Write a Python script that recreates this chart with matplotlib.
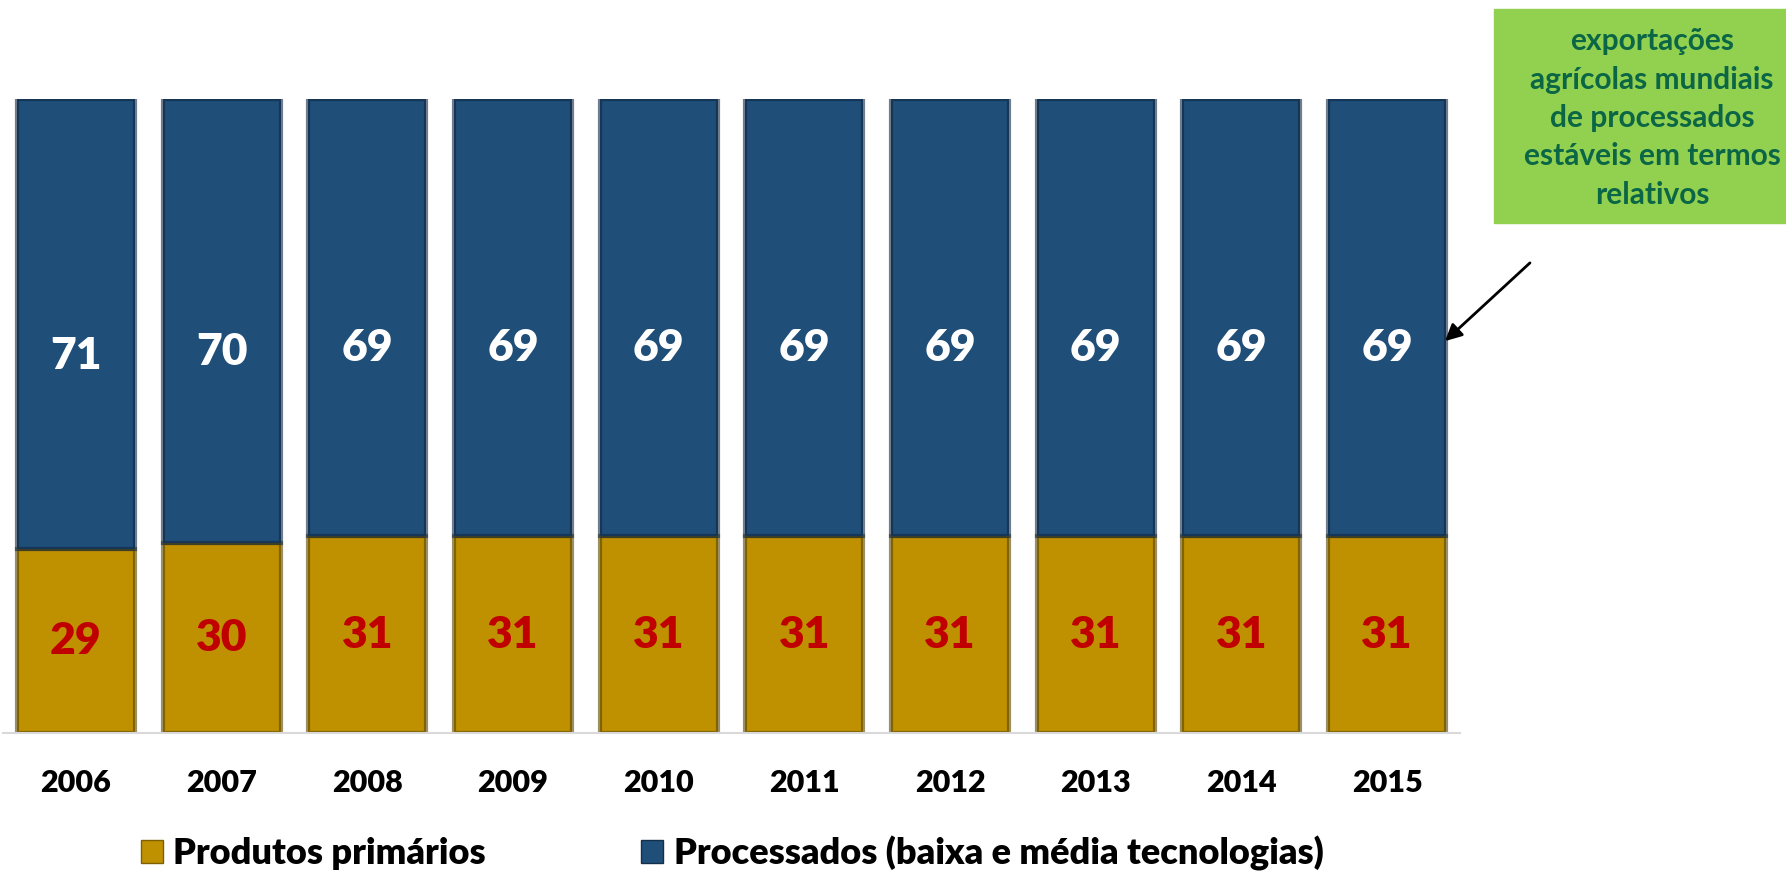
import matplotlib.pyplot as plt
from matplotlib.patches import Rectangle, Patch

plt.rcParams['font.family'] = ['Lato', 'DejaVu Sans']

anos = ['2006', '2007', '2008', '2009', '2010', '2011', '2012', '2013', '2014', '2015']
primarios = [29, 30, 31, 31, 31, 31, 31, 31, 31, 31]
processados = [71, 70, 69, 69, 69, 69, 69, 69, 69, 69]

cor_prim = '#BF9000'
cor_proc = '#1F4E78'

fig = plt.figure(figsize=(17.86, 8.74), dpi=100)
ax = fig.add_axes([3 / 1786, 141 / 874, 1457 / 1786, 634 / 874])

x = list(range(len(anos)))
ax.bar(x, primarios, width=0.81, color=cor_prim, edgecolor=(0.35, 0.27, 0.0, 0.6),
       linewidth=3)
ax.bar(x, processados, width=0.81, bottom=primarios, color=cor_proc,
       edgecolor=(0.06, 0.15, 0.25, 0.6), linewidth=3)

for i in x:
    ax.text(i, primarios[i] / 2, str(primarios[i]), ha='center', va='center',
            color='#C00000', fontsize=32, fontweight='heavy')
    ax.text(i, primarios[i] + processados[i] * 0.43, str(processados[i]), ha='center',
            va='center', color='white', fontsize=32, fontweight='heavy')

ax.set_xlim(-0.5, 9.5)
ax.set_ylim(0, 100)
ax.set_xticks(x)
ax.set_xticklabels(anos, fontsize=22, fontweight='heavy')
ax.tick_params(axis='x', length=0, pad=26)
ax.set_yticks([])
for s in ['top', 'right', 'left']:
    ax.spines[s].set_visible(False)
ax.spines['bottom'].set_color('#D9D9D9')
ax.spines['bottom'].set_linewidth(1.5)

# caixa verde
fig.patches.append(Rectangle((1494 / 1786, 651 / 874), 292 / 1786, 214 / 874,
                             transform=fig.transFigure, color='#92D050', zorder=1))
fig.text(1652 / 1786, 1 - 118 / 874,
         'exportações\nagrícolas mundiais\nde processados\nestáveis em termos\nrelativos',
         ha='center', va='center', fontsize=21.5, fontweight='bold', color='#0B6646',
         linespacing=1.45)

ax.annotate('', xy=(1443 / 1786, 1 - 343 / 874), xycoords='figure fraction',
            xytext=(1532 / 1786, 1 - 261 / 874), textcoords='figure fraction',
            arrowprops=dict(arrowstyle='-|>', color='black', lw=2, mutation_scale=25))

handles = [Patch(facecolor=cor_prim, edgecolor='#7F6000', label='Produtos primários'),
           Patch(facecolor=cor_proc, edgecolor='#142F4A',
                 label='Processados (baixa e média tecnologias)')]
fig.legend(handles=handles, loc='center', bbox_to_anchor=(0.41, 0.024), ncol=2,
           frameon=False, prop={'size': 26, 'weight': 'heavy'}, handlelength=0.6,
           handleheight=0.6, handletextpad=0.3, columnspacing=4.3)

fig.savefig('out.png', dpi=100)
